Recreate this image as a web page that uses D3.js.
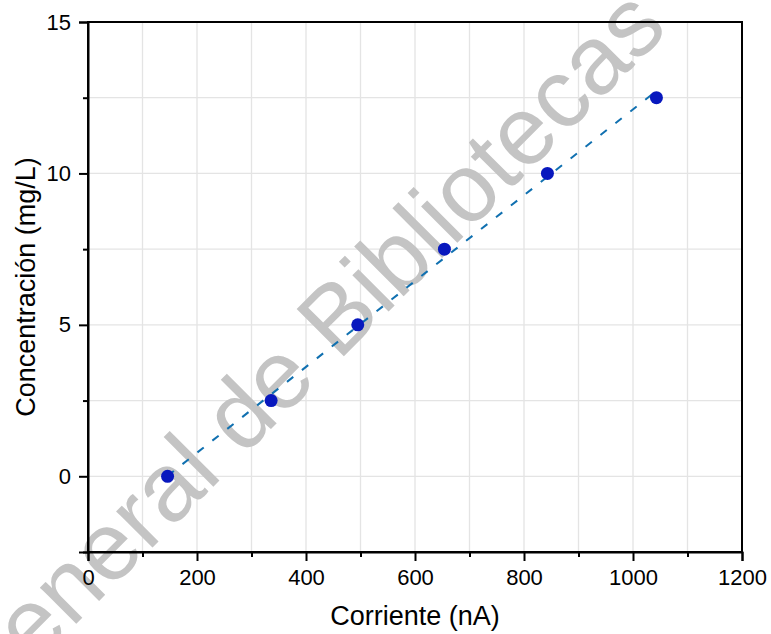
<!DOCTYPE html>
<html>
<head>
<meta charset="utf-8">
<script src="https://cdn.jsdelivr.net/npm/d3@7"></script>
<style>
  html, body { margin: 0; padding: 0; background: #fff; }
  svg { display: block; }
  text { font-family: "Liberation Sans", Arial, sans-serif; }
</style>
</head>
<body>
<svg id="chart" width="771" height="634"></svg>
<script>
// ---- data ----
const corriente = [146, 336, 495, 654, 843, 1043];      // nA
const concentracion = [0, 2.5, 5, 7.5, 10, 12.5];       // mg/L
const xTickValues = [0, 200, 400, 600, 800, 1000, 1200];
const yTickValues = [0, 5, 10, 15];
const xTitle = "Corriente (nA)";
const yTitle = "Concentración (mg/L)";
const watermark = "Dirección General de Bibliotecas";

const W = 771, H = 634;
const m = { left: 88, right: 29, top: 22, bottom: 82 };
const svg = d3.select("#chart");

const x = d3.scaleLinear().domain([0, 1200]).range([m.left, W - m.right]);
const y = d3.scaleLinear().domain([-2.5, 15]).range([H - m.bottom, m.top]);

// grid
const gGrid = svg.append("g");
gGrid.selectAll("line.gx").data(d3.range(100, 1200, 100)).join("line")
  .attr("x1", d => x(d)).attr("x2", d => x(d))
  .attr("y1", y(-2.5)).attr("y2", y(15))
  .attr("stroke", "#e4e4e4").attr("stroke-width", 1.3);
gGrid.selectAll("line.gy").data(d3.range(0, 15, 2.5)).join("line")
  .attr("y1", d => y(d)).attr("y2", d => y(d))
  .attr("x1", x(0)).attr("x2", x(1200))
  .attr("stroke", "#e4e4e4").attr("stroke-width", 1.3);

// watermark
svg.append("text")
  .attr("transform", "translate(670,30) rotate(-45)")
  .attr("text-anchor", "end")
  .attr("font-size", 97)
  .attr("fill", "#c4c4c4")
  .text(watermark);

// fit line (least squares)
const mx = d3.mean(corriente), my = d3.mean(concentracion);
const slope = d3.sum(corriente, (v, i) => (v - mx) * (concentracion[i] - my)) /
              d3.sum(corriente, v => (v - mx) * (v - mx));
const icpt = my - slope * mx;
const ext = d3.extent(corriente);
svg.append("path")
  .datum(ext)
  .attr("d", d3.line().x(d => x(d)).y(d => y(icpt + slope * d)))
  .attr("stroke", "#1070b0").attr("stroke-width", 2)
  .attr("stroke-dasharray", "8,11").attr("fill", "none");

// points
svg.selectAll("circle.pt").data(corriente).join("circle")
  .attr("cx", d => x(d)).attr("cy", (d, i) => y(concentracion[i]))
  .attr("r", 6.5).attr("fill", "#0818be");

// frame
svg.append("rect")
  .attr("x", x(0)).attr("y", y(15))
  .attr("width", x(1200) - x(0)).attr("height", y(-2.5) - y(15))
  .attr("fill", "none").attr("stroke", "#000").attr("stroke-width", 2);

// x axis
const xAxis = d3.axisBottom(x).tickValues(xTickValues).tickFormat(d3.format("d"))
  .tickSize(9).tickPadding(8);
const gx = svg.append("g").attr("transform", `translate(0,${y(-2.5)})`).call(xAxis);
gx.select(".domain").attr("stroke-width", 2);
gx.selectAll(".tick line").attr("stroke-width", 2);
gx.selectAll("text").attr("font-size", 22).attr("font-family", "Liberation Sans, Arial, sans-serif").attr("fill", "#000");
const xMinor = d3.axisBottom(x).tickValues(d3.range(100, 1200, 200)).tickSize(5).tickFormat("");
const gxm = svg.append("g").attr("transform", `translate(0,${y(-2.5)})`).call(xMinor);
gxm.select(".domain").remove();
gxm.selectAll(".tick line").attr("stroke-width", 2);

// y axis
const yAxis = d3.axisLeft(y).tickValues(yTickValues).tickFormat(d3.format("d"))
  .tickSize(9).tickPadding(8);
const gy = svg.append("g").attr("transform", `translate(${x(0)},0)`).call(yAxis);
gy.select(".domain").attr("stroke-width", 2);
gy.selectAll(".tick line").attr("stroke-width", 2);
gy.selectAll("text").attr("font-size", 22).attr("font-family", "Liberation Sans, Arial, sans-serif").attr("fill", "#000");
const yMinor = d3.axisLeft(y).tickValues([-2.5, 2.5, 7.5, 12.5]).tickSize(5).tickFormat("");
const gym = svg.append("g").attr("transform", `translate(${x(0)},0)`).call(yMinor);
gym.select(".domain").remove();
gym.selectAll(".tick line").attr("stroke-width", 2);

// titles
svg.append("text")
  .attr("x", (x(0) + x(1200)) / 2).attr("y", 625)
  .attr("text-anchor", "middle").attr("font-size", 27).attr("fill", "#000")
  .text(xTitle);
svg.append("text")
  .attr("transform", `translate(35,${(y(-2.5) + y(15)) / 2}) rotate(-90)`)
  .attr("text-anchor", "middle").attr("font-size", 27).attr("fill", "#000")
  .text(yTitle);
</script>
</body>
</html>
